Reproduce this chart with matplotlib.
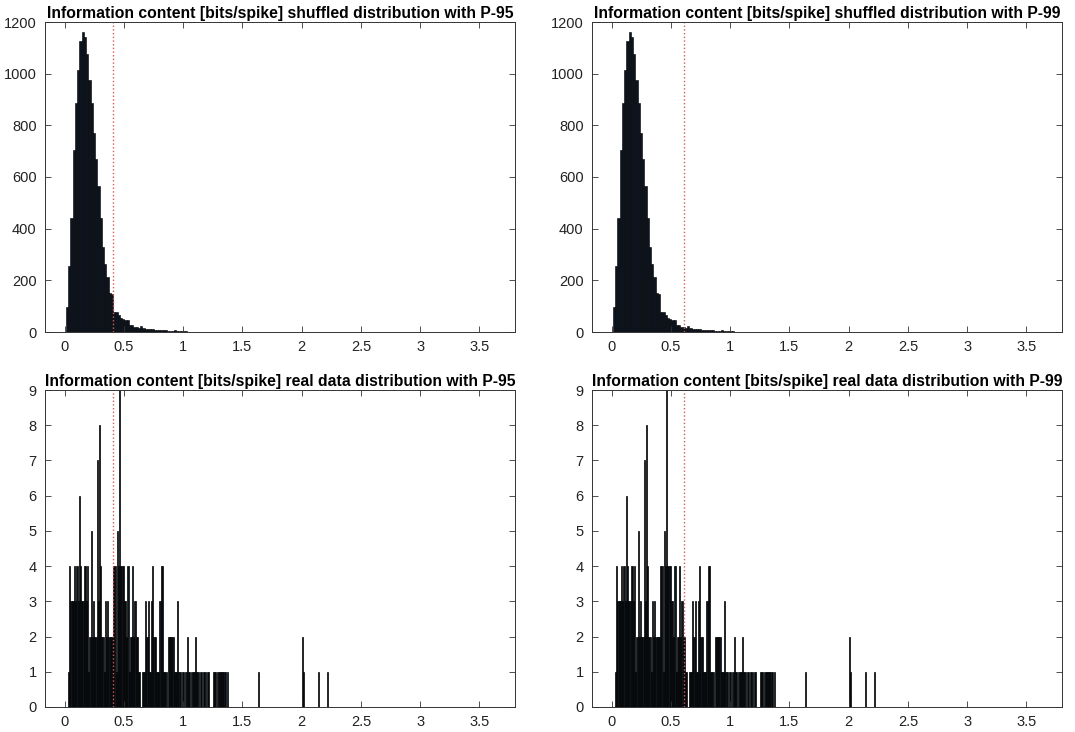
import matplotlib
matplotlib.use("Agg")
import matplotlib.pyplot as plt
import numpy as np

# shuffled distribution (bin width 0.019 starting at 0.01)
shuf_start = 0.01
shuf_width = 0.019
shuf_counts = [95, 255, 440, 705, 885, 1015, 1125, 1160, 1140, 1075,
               975, 885, 770, 670, 565, 440, 330, 262, 212, 150,
               148, 78, 77, 65, 55, 50, 48, 46, 28, 26,
               20, 18, 17, 22, 14, 13, 12, 12, 10, 9,
               8, 7, 8, 6, 6, 5, 5, 4, 6, 4,
               3, 5, 2, 2, 1, 1]

# real data distribution (bin width 0.01 starting at 0.03)
real_start = 0.03
real_width = 0.01
real_counts = [1, 4, 3, 3, 3, 4, 3, 4, 3, 6,
               4, 3, 3, 4, 4, 3, 4, 1, 2, 5,
               2, 3, 2, 2, 7, 3, 8, 4, 2, 2,
               1, 3, 2, 3, 2, 2, 2, 2, 4, 4,
               1, 5, 4, 9, 4, 4, 4, 3, 3, 2,
               4, 1, 2, 2, 4, 2, 3, 2, 2, 1,
               1, 0, 1, 1, 1, 3, 2, 3, 1, 1,
               3, 4, 2, 2, 1, 1, 1, 3, 4, 4,
               1, 1, 1, 0, 2, 2, 2, 2, 2, 1,
               1, 1, 3, 1, 1, 0, 1, 1, 0, 1,
               2, 1, 1, 0, 1, 1, 1, 2, 1, 1,
               0, 1, 1, 0, 1, 1, 0, 1, 1, 0,
               0, 0, 1, 1, 1, 0, 1, 1, 1, 1,
               1, 1, 1, 0, 1]
# isolated high values
real_tail_left = [1.63, 2.00, 2.01, 2.14, 2.21]
real_tail_counts = [1, 2, 1, 1, 1]

p95 = 0.41
p99 = 0.615

titles = ["Information content [bits/spike] shuffled distribution with P-95",
          "Information content [bits/spike] shuffled distribution with P-99",
          "Information content [bits/spike] real data distribution with P-95",
          "Information content [bits/spike] real data distribution with P-99"]

plt.rcParams['font.family'] = ['Liberation Sans', 'DejaVu Sans']

fig = plt.figure(figsize=(10.75, 7.32), dpi=100)
W, H = 1075, 732
boxes = [(45, 22, 515, 332), (592, 22, 1062, 332),
         (45, 390, 515, 707), (592, 390, 1062, 707)]
axes = []
for (x0, y0, x1, y1) in boxes:
    axes.append(fig.add_axes([x0 / W, 1 - y1 / H, (x1 - x0) / W, (y1 - y0) / H]))

face = '#0c1420'
shuf_left = shuf_start + shuf_width * np.arange(len(shuf_counts))
real_left = real_start + real_width * np.arange(len(real_counts))

for k, ax in enumerate(axes):
    if k < 2:
        ax.bar(shuf_left, shuf_counts, width=shuf_width, align='edge',
               color=face, edgecolor='black', linewidth=0.4)
        ax.set_ylim(0, 1200)
        ax.set_yticks(range(0, 1201, 200))
    else:
        ax.bar(real_left, real_counts, width=real_width, align='edge',
               color=face, edgecolor='black', linewidth=0.5)
        ax.bar(real_tail_left, real_tail_counts, width=real_width, align='edge',
               color=face, edgecolor='black', linewidth=0.5)
        ax.set_ylim(0, 9)
        ax.set_yticks(range(0, 10))
    thr = p95 if k % 2 == 0 else p99
    ax.axvline(thr, color='#d65a5a', linestyle=':', linewidth=1.0)
    ax.set_xlim(-0.165, 3.8)
    ax.set_xticks(np.arange(0, 3.6, 0.5))
    ax.set_xticklabels(['0', '0.5', '1', '1.5', '2', '2.5', '3', '3.5'])
    ax.tick_params(direction='in', top=True, right=True, length=4,
                   width=0.6, labelsize=10.5, pad=6, colors='#333333',
                   labelcolor='#222222')
    for s in ax.spines.values():
        s.set_linewidth(0.7)
        s.set_color('#333333')
    ax.set_title(titles[k], fontsize=11.3, fontweight='bold', pad=3, loc='center')

fig.savefig("out.png", dpi=100, facecolor='white')
